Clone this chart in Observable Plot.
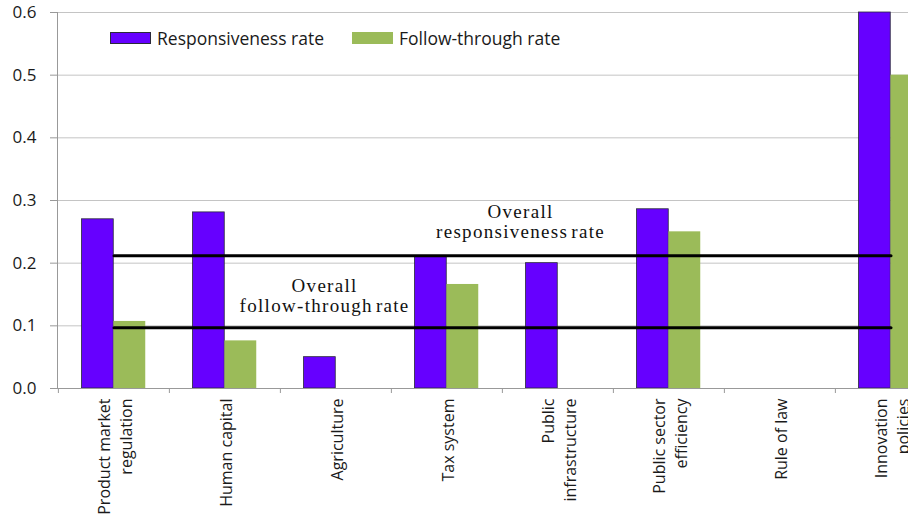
<!DOCTYPE html>
<html>
<head>
<meta charset="utf-8">
<script src="https://cdn.jsdelivr.net/npm/d3@7"></script>
<script src="https://cdn.jsdelivr.net/npm/@observablehq/plot@0.6"></script>
<style>
  html, body { margin: 0; padding: 0; background: #fff; overflow: hidden; }
  #wrap { position: relative; width: 908px; height: 515px; overflow: hidden; }
  .legend-item { position: absolute; top: 28px; height: 20px; display: flex; align-items: center;
    font-family: "Open Sans", sans-serif; font-size: 17.5px; color: #1a1a1a; white-space: nowrap; }
  .sw { width: 39px; height: 10px; margin-right: 6px; }
</style>
</head>
<body>
<div id="wrap"></div>
<script>
// ---- data ----
const categories = ["Product market\nregulation", "Human capital", "Agriculture", "Tax system",
  "Public\ninfrastructure", "Public sector\nefficiency", "Rule of law", "Innovation\npolicies"];
const responsiveness = [0.27, 0.281, 0.05, 0.21, 0.2, 0.286, 0, 0.6];
const followThrough = [0.107, 0.076, 0, 0.166, 0, 0.25, 0, 0.5];
const seriesNames = ["Responsiveness rate", "Follow-through rate"];
const seriesColors = ["#6600ff", "#9bbb59"];
const overallNames = ["Overall responsiveness rate", "Overall follow-through rate"];
const overallValues = [0.212, 0.097];
const annLabels = ["Overall\nresponsiveness rate", "Overall\nfollow-through rate"];
const annCategories = [categories[4], categories[2]];
const annValues = [0.2394, 0.1213];
const yTicks = [0, 0.1, 0.2, 0.3, 0.4, 0.5, 0.6];

// ---- tables ----
const respData = categories.map((c, i) => ({cat: c, v: responsiveness[i]})).filter(d => d.v > 0);
const followData = categories.map((c, i) => ({cat: c, v: followThrough[i]})).filter(d => d.v > 0);
const overallData = overallNames.flatMap((n, i) => [
  {name: n, cat: categories[0], v: overallValues[i]},
  {name: n, cat: categories[categories.length - 1], v: overallValues[i]}
]);
const ann0 = [{cat: annCategories[0], v: annValues[0], label: annLabels[0]}];
const ann1 = [{cat: annCategories[1], v: annValues[1], label: annLabels[1]}];

const left = 57, right = 947, bw = (right - left) / categories.length;

const chart = Plot.plot({
  width: 908,
  height: 515,
  marginLeft: left,
  marginRight: 0,
  marginTop: 12,
  marginBottom: 127,
  style: {fontFamily: "Open Sans, sans-serif", fontSize: "17px", color: "#1a1a1a", background: "#fff"},
  x: {domain: categories, range: [left, right], padding: 0, label: null},
  y: {domain: [0, 0.6], label: null},
  marks: [
    Plot.gridY(yTicks, {stroke: "#c4c4c4", strokeOpacity: 1}),
    Plot.barY(respData, {x: "cat", y: "v", fill: seriesColors[0], stroke: "#2a2a3a", strokeWidth: 0.8,
      insetLeft: 23.5, insetRight: bw - 55.5}),
    Plot.barY(followData, {x: "cat", y: "v", fill: seriesColors[1],
      insetLeft: 55.5, insetRight: bw - 87.5}),
    Plot.ruleY([0], {stroke: "#999"}),
    Plot.frame({anchor: "left", stroke: "#999"}),
    Plot.axisY({ticks: yTicks, tickFormat: d3.format(".1f"), tickSize: 7, tickPadding: 14,
      stroke: "#999", fontSize: 17, label: null}),
    Plot.axisX({tickSize: 5, tickFormat: () => "", dx: -bw / 2, stroke: "#999", label: null}),
    Plot.text(categories, {x: d => d, text: d => d, frameAnchor: "bottom", dy: 10, rotate: -90,
      textAnchor: "end", lineAnchor: "middle", lineHeight: 1.375, fontSize: 16, fill: "#1a1a1a"}),
    Plot.line(overallData, {x: "cat", y: "v", z: "name", stroke: "#000", strokeWidth: 3}),
    Plot.text(ann0, {x: "cat", y: "v", text: "label", dx: -37.5, lineAnchor: "bottom", lineHeight: 1.1,
      fontFamily: "Liberation Serif, serif", fontSize: 19, fill: "#111"}),
    Plot.text(ann1, {x: "cat", y: "v", text: "label", dx: -11.4, lineAnchor: "bottom", lineHeight: 1.1,
      fontFamily: "Liberation Serif, serif", fontSize: 19, fill: "#111"})
  ]
});

// spread the serif annotation letters like the reference
d3.select(chart).selectAll("text")
  .filter(function () { return annLabels.some(l => this.textContent === l.replace("\n", "")); })
  .style("letter-spacing", "1.3px")
  .style("word-spacing", "-3px");

const wrap = document.getElementById("wrap");
wrap.appendChild(chart);

// legend (HTML, over the plot)
const legendLefts = [110, 352];
seriesNames.forEach((name, i) => {
  const item = document.createElement("div");
  item.className = "legend-item";
  item.style.left = legendLefts[i] + "px";
  const sw = document.createElement("span");
  sw.className = "sw";
  sw.style.background = seriesColors[i];
  sw.style.border = i === 0 ? "1px solid #2a2a3a" : "1px solid " + seriesColors[i];
  item.appendChild(sw);
  item.appendChild(document.createTextNode(name));
  wrap.appendChild(item);
});
</script>
</body>
</html>
